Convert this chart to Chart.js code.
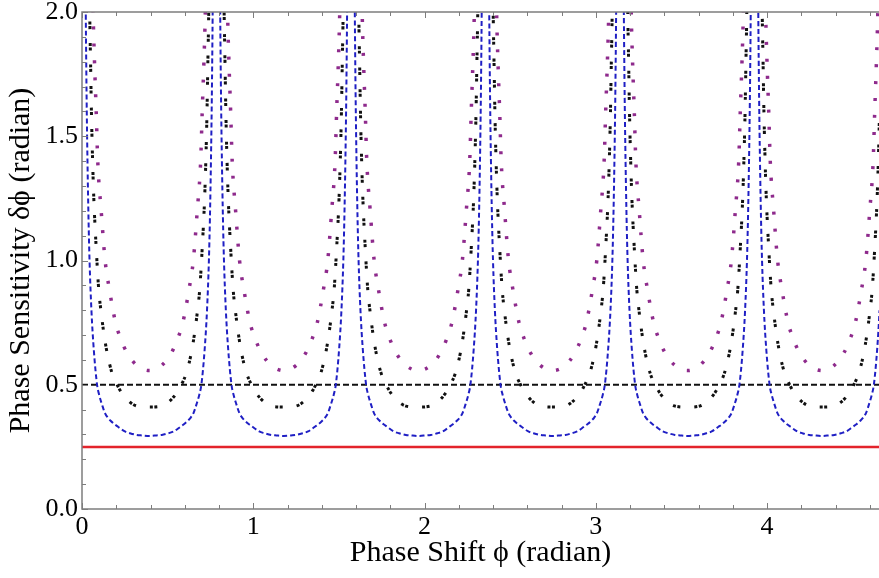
<!DOCTYPE html>
<html>
<head>
<meta charset="utf-8">
<script src="https://cdn.jsdelivr.net/npm/chart.js@4"></script>
<style>
  html, body { margin: 0; background: #fff; }
</style>
</head>
<body>
<canvas id="chart" width="879" height="578"></canvas>
<script>
// where the curves blow up (radian)
const poles = [0, 0.785, 1.571, 2.356, 3.142, 3.927];

// one period of each curve: offset from the pole -> value
const blueOffsets = [0.012, 0.018, 0.022, 0.027, 0.032, 0.038, 0.044, 0.055, 0.069, 0.088, 0.100, 0.117, 0.134, 0.150, 0.167, 0.190, 0.210, 0.250, 0.280, 0.320, 0.350, 0.393,
                     0.435, 0.466, 0.505, 0.535, 0.575, 0.595, 0.618, 0.635, 0.651, 0.668, 0.685, 0.697, 0.716, 0.730, 0.741, 0.747, 0.753, 0.758, 0.763, 0.767, 0.773];
const blueValues  = [3.6, 2.4, 2.0, 1.65, 1.4, 1.17, 1.0, 0.8, 0.64, 0.5, 0.46, 0.42, 0.386, 0.368, 0.355, 0.341, 0.331, 0.312, 0.305, 0.298, 0.296, 0.294,
                     0.296, 0.298, 0.305, 0.312, 0.331, 0.341, 0.355, 0.368, 0.386, 0.42, 0.46, 0.5, 0.64, 0.8, 1.0, 1.17, 1.4, 1.65, 2.0, 2.4, 3.6];

const blackOffsets = [0.030, 0.045, 0.050, 0.055, 0.060, 0.069, 0.083, 0.098, 0.112, 0.127, 0.147, 0.176, 0.205, 0.234, 0.280, 0.322, 0.393,
                      0.464, 0.505, 0.551, 0.580, 0.609, 0.638, 0.658, 0.673, 0.687, 0.702, 0.716, 0.725, 0.730, 0.735, 0.740, 0.755];
const blackValues  = [3.0, 2.0, 1.8, 1.6, 1.45, 1.25, 1.05, 0.88, 0.79, 0.71, 0.627, 0.546, 0.5, 0.465, 0.43, 0.414, 0.41,
                      0.414, 0.43, 0.465, 0.5, 0.546, 0.627, 0.71, 0.79, 0.88, 1.05, 1.25, 1.45, 1.6, 1.8, 2.0, 3.0];

const purpleOffsets = [0.045, 0.065, 0.073, 0.083, 0.092, 0.112, 0.135, 0.161, 0.196, 0.225, 0.264, 0.322, 0.393,
                       0.464, 0.521, 0.560, 0.589, 0.624, 0.650, 0.673, 0.693, 0.702, 0.712, 0.720, 0.740];
const purpleValues  = [2.9, 2.0, 1.8, 1.6, 1.4, 1.2, 1.0, 0.88, 0.75, 0.687, 0.627, 0.577, 0.557,
                       0.577, 0.627, 0.687, 0.75, 0.88, 1.0, 1.2, 1.4, 1.6, 1.8, 2.0, 2.9];

// horizontal reference levels
const dashedLevel = 0.5;
const redLevel = 0.25;

const xMin = 0, xMax = 4.654;
const yMin = 0, yMax = 2;

// tick marks (inward) and labels
const xTickMarks = [0, 0.2, 0.4, 0.6, 0.8, 1, 1.2, 1.4, 1.6, 1.8, 2, 2.2, 2.4, 2.6, 2.8, 3, 3.2, 3.4, 3.6, 3.8, 4, 4.2, 4.4, 4.6];
const yTickMarks = [0, 0.1, 0.2, 0.3, 0.4, 0.5, 0.6, 0.7, 0.8, 0.9, 1, 1.1, 1.2, 1.3, 1.4, 1.5, 1.6, 1.7, 1.8, 1.9, 2];
const yMajor = [0, 0.5, 1, 1.5, 2];

function periodic(offs, vals) {
    const pts = [];
    poles.forEach((p) => {
        offs.forEach((o, i) => pts.push({ x: p + o, y: vals[i] }));
    });
    return pts;
}

function flat(level) {
    return [{ x: xMin, y: level }, { x: xMax, y: level }];
}

const serif = "'Liberation Serif', 'DejaVu Serif', serif";

// frame + inward ticks, like the original plot
const framePlugin = {
    id: "frame",
    afterDatasetsDraw(chart) {
        const { ctx, chartArea: a, scales: { x, y } } = chart;
        ctx.save();
        ctx.strokeStyle = "#7d7d7d";
        ctx.lineWidth = 1.5;
        ctx.beginPath();
        ctx.moveTo(a.right, a.top);
        ctx.lineTo(a.left, a.top);
        ctx.lineTo(a.left, a.bottom);
        ctx.lineTo(a.right, a.bottom);
        ctx.stroke();

        ctx.lineWidth = 1;
        ctx.beginPath();
        xTickMarks.forEach((v) => {
            const px = Math.round(x.getPixelForValue(v)) + 0.5;
            const len = Number.isInteger(v) ? 6 : 4;
            ctx.moveTo(px, a.bottom);
            ctx.lineTo(px, a.bottom - len);
            ctx.moveTo(px, a.top);
            ctx.lineTo(px, a.top + len);
        });
        yTickMarks.forEach((v) => {
            const py = Math.round(y.getPixelForValue(v)) + 0.5;
            const len = yMajor.includes(v) ? 6 : 4;
            ctx.moveTo(a.left, py);
            ctx.lineTo(a.left + len, py);
        });
        ctx.stroke();
        ctx.restore();
    },
};

const ctx = document.getElementById("chart").getContext("2d");
new Chart(ctx, {
    type: "line",
    data: {
        datasets: [
            {
                data: periodic(blueOffsets, blueValues),
                borderColor: "#1f1fc4",
                borderWidth: 2,
                borderDash: [5, 3],
                cubicInterpolationMode: "monotone",
            },
            {
                data: periodic(blackOffsets, blackValues),
                borderColor: "#111111",
                borderWidth: 3,
                borderDash: [3, 1.5, 3, 14],
                cubicInterpolationMode: "monotone",
            },
            {
                data: periodic(purpleOffsets, purpleValues),
                borderColor: "#8e2a8c",
                borderWidth: 3.5,
                borderDash: [3, 14],
                cubicInterpolationMode: "monotone",
            },
            {
                data: flat(dashedLevel),
                borderColor: "#111111",
                borderWidth: 2,
                borderDash: [6, 3],
            },
            {
                data: flat(redLevel),
                borderColor: "#e3232b",
                borderWidth: 2.5,
            },
        ],
    },
    options: {
        responsive: false,
        animation: false,
        devicePixelRatio: 1,
        elements: { point: { radius: 0 } },
        layout: { padding: { top: 12, right: 0, left: 0, bottom: 0 } },
        plugins: {
            legend: { display: false },
            tooltip: { enabled: false },
        },
        scales: {
            x: {
                type: "linear",
                min: xMin,
                max: xMax,
                grid: { display: false, drawTicks: false },
                border: { display: false },
                ticks: {
                    stepSize: 1,
                    includeBounds: false,
                    padding: 3,
                    color: "#000",
                    font: { family: serif, size: 26 },
                    maxRotation: 0,
                },
                title: {
                    display: true,
                    text: "Phase Shift ϕ (radian)",
                    color: "#000",
                    font: { family: serif, size: 30 },
                    padding: { top: 0, bottom: 7 },
                },
                afterFit(scale) {
                    scale.height = 69;
                    scale.paddingLeft = 0;
                    scale.paddingRight = 0;
                },
            },
            y: {
                min: yMin,
                max: yMax,
                grid: { display: false, drawTicks: false },
                border: { display: false },
                ticks: {
                    stepSize: 0.5,
                    padding: 4,
                    color: "#000",
                    font: { family: serif, size: 26 },
                    callback: (v) => v.toFixed(1),
                },
                title: {
                    display: true,
                    text: "Phase Sensitivity δϕ (radian)",
                    color: "#000",
                    font: { family: serif, size: 30 },
                    padding: { top: 3, bottom: 0 },
                },
                afterFit(scale) {
                    scale.width = 82;
                    scale.paddingTop = 0;
                    scale.paddingBottom = 0;
                },
            },
        },
    },
    plugins: [framePlugin],
});
</script>
</body>
</html>
